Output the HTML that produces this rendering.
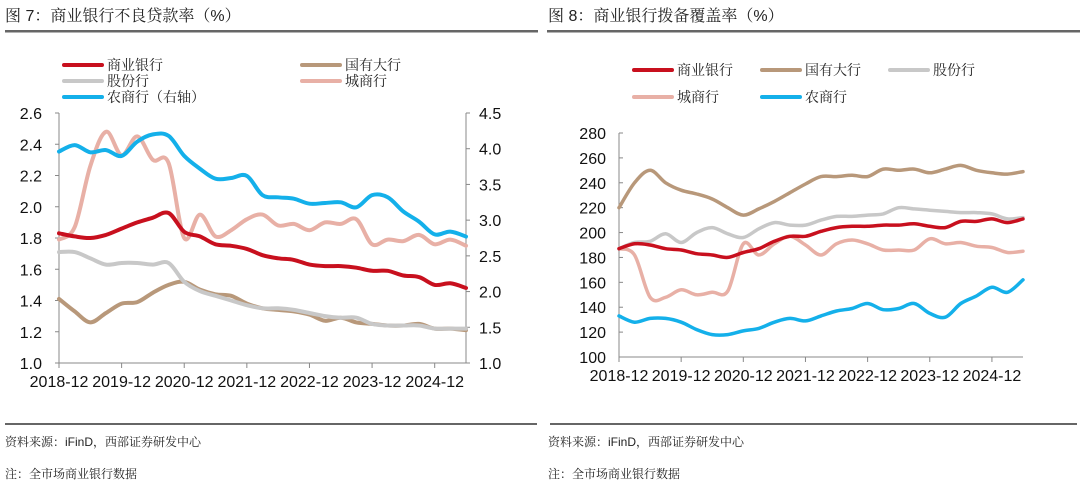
<!DOCTYPE html>
<html><head><meta charset="utf-8">
<style>
body{margin:0;background:#fff;width:1080px;height:491px;overflow:hidden;font-family:"Liberation Sans","Noto Serif CJK SC","Noto Sans CJK SC",sans-serif;}
svg text{font-family:"Liberation Sans","Noto Serif CJK SC","Noto Sans CJK SC",sans-serif;}
</style></head><body>
<svg id="s" width="1080" height="491" xmlns="http://www.w3.org/2000/svg">
<text x="5" y="21" font-size="16" fill="#222">图 7：商业银行不良贷款率（%）</text>
<text x="548" y="21" font-size="16" fill="#222">图 8：商业银行拨备覆盖率（%）</text>
<rect x="5" y="30" width="533" height="2.5" fill="#666"/>
<rect x="547" y="30" width="533" height="2.5" fill="#666"/>
<rect x="5" y="423" width="532" height="2" fill="#666"/>
<rect x="550" y="423" width="527" height="2" fill="#666"/>
<text x="5" y="446" font-size="12" fill="#222">资料来源：iFinD，西部证券研发中心</text>
<text x="5" y="478" font-size="12" fill="#222">注：全市场商业银行数据</text>
<text x="548" y="446" font-size="12" fill="#222">资料来源：iFinD，西部证券研发中心</text>
<text x="548" y="478" font-size="12" fill="#222">注：全市场商业银行数据</text>
<g id="c1"></g><g id="c2"></g>
</svg>
<script>
const xLabels = ["2018-12","2019-12","2020-12","2021-12","2022-12","2023-12","2024-12"];
const leftTicks = [1.0,1.2,1.4,1.6,1.8,2.0,2.2,2.4,2.6];
const rightTicks = [1.0,1.5,2.0,2.5,3.0,3.5,4.0,4.5];
const npl_all = [1.83,1.81,1.80,1.82,1.86,1.90,1.93,1.96,1.84,1.81,1.76,1.75,1.73,1.69,1.67,1.66,1.63,1.62,1.62,1.61,1.59,1.59,1.56,1.55,1.50,1.51,1.48];
const npl_big = [1.41,1.33,1.26,1.32,1.38,1.39,1.45,1.50,1.52,1.47,1.44,1.43,1.38,1.35,1.34,1.33,1.31,1.27,1.29,1.26,1.25,1.24,1.24,1.25,1.22,1.22,1.21];
const npl_jsb = [1.71,1.71,1.67,1.63,1.64,1.64,1.63,1.64,1.52,1.46,1.43,1.40,1.37,1.35,1.35,1.34,1.32,1.30,1.29,1.29,1.25,1.24,1.24,1.24,1.22,1.22,1.22];
const npl_city = [1.79,1.87,2.26,2.48,2.33,2.45,2.30,2.28,1.80,1.95,1.81,1.85,1.92,1.95,1.88,1.89,1.85,1.90,1.89,1.92,1.76,1.79,1.78,1.82,1.76,1.79,1.75];
const npl_rural = [3.96,4.05,3.95,3.98,3.90,4.10,4.20,4.18,3.90,3.72,3.58,3.59,3.62,3.35,3.32,3.30,3.23,3.24,3.25,3.18,3.35,3.32,3.12,2.98,2.80,2.84,2.77];
const covTicks = [100,120,140,160,180,200,220,240,260,280];
const cov_all = [187,191,190,187,186,183,182,180,184,187,193,197,197,201,204,205,205,206,206,207,205,204,209,209,211,208,211];
const cov_big = [220,240,250,240,234,231,227,220,214,219,225,232,239,245,245,246,245,251,250,251,248,251,254,250,248,247,249];
const cov_jsb = [187,192,193,199,192,200,204,199,196,203,208,206,206,210,213,213,214,215,220,219,218,217,216,216,215,211,212];
const cov_city = [187,182,148,148,154,150,152,153,191,182,191,197,190,182,191,194,191,186,186,186,195,191,192,189,188,184,185];
const cov_rural = [133,128,131,131,128,122,118,118,121,123,128,131,129,133,137,139,143,138,139,143,135,132,143,149,156,152,162];

const NS="http://www.w3.org/2000/svg";
const C={red:"#c8101e",brown:"#b8987a",gray:"#c8c8c8",pink:"#e8b0a6",blue:"#14b0ea"};
function mk(tag,attrs,parent,txt){const e=document.createElementNS(NS,tag);for(const k in attrs)e.setAttribute(k,attrs[k]);if(txt!==undefined)e.textContent=txt;parent.appendChild(e);return e;}
function smooth(pts){let d="M"+pts[0][0].toFixed(1)+","+pts[0][1].toFixed(1);for(let i=0;i<pts.length-1;i++){const p0=pts[Math.max(0,i-1)],p1=pts[i],p2=pts[i+1],p3=pts[Math.min(pts.length-1,i+2)];const c1=[p1[0]+(p2[0]-p0[0])/6,p1[1]+(p2[1]-p0[1])/6],c2=[p2[0]-(p3[0]-p1[0])/6,p2[1]-(p3[1]-p1[1])/6];d+="C"+c1[0].toFixed(1)+","+c1[1].toFixed(1)+" "+c2[0].toFixed(1)+","+c2[1].toFixed(1)+" "+p2[0].toFixed(1)+","+p2[1].toFixed(1);}return d;}
function series(g,vals,xf,yf,color,name,w){const p=mk("path",{d:smooth(vals.map((v,i)=>[xf(i),yf(v)])),fill:"none",stroke:color,"stroke-width":w,"stroke-linejoin":"round","stroke-linecap":"round"},g);

}
function legend(g,x,y,color,label,name){const l=mk("line",{x1:x,y1:y,x2:x+38,y2:y,stroke:color,"stroke-width":4,"stroke-linecap":"round"},g);


const t=mk("text",{x:x+43,y:y+5,"font-size":14,fill:"#222"},g,label);

}
function xaxis(g,x0,x1,yb,n){const xf=i=>x0+i*(x1-x0)/(n-1);
mk("line",{x1:x0,y1:yb,x2:x1,y2:yb,stroke:"#888","stroke-width":1},g);
xLabels.forEach((l,k)=>{const x=xf(k*4);mk("line",{x1:x,y1:yb,x2:x,y2:yb+5,stroke:"#888"},g);
const t=mk("text",{x:x,y:yb+24,"font-size":16,"text-anchor":"middle",fill:"#111"},g,l);

});return xf;}

// Chart 7
const g1=document.getElementById("c1");
const L={x0:59,x1:466,top:113,bot:363};
const yL=v=>L.bot-(v-1.0)/(2.6-1.0)*(L.bot-L.top);
const yR=v=>L.bot-(v-1.0)/(4.5-1.0)*(L.bot-L.top);
mk("line",{x1:L.x0,y1:L.top,x2:L.x0,y2:L.bot,stroke:"#888"},g1);
mk("line",{x1:L.x1,y1:L.top,x2:L.x1,y2:L.bot,stroke:"#888"},g1);
leftTicks.forEach(v=>{mk("line",{x1:L.x0-4,y1:yL(v),x2:L.x0,y2:yL(v),stroke:"#888"},g1);
const t=mk("text",{x:42,y:yL(v)+6,"font-size":16,"text-anchor":"end",fill:"#111"},g1,v.toFixed(1));

});
rightTicks.forEach(v=>{mk("line",{x1:L.x1,y1:yR(v),x2:L.x1+4,y2:yR(v),stroke:"#888"},g1);
const t=mk("text",{x:479,y:yR(v)+6,"font-size":16,fill:"#111"},g1,v.toFixed(1));

});
const xf1=xaxis(g1,L.x0,L.x1,L.bot,npl_all.length);
series(g1,npl_big,xf1,yL,C.brown,"npl-big-line",4);
series(g1,npl_jsb,xf1,yL,C.gray,"npl-jsb-line",4);
series(g1,npl_city,xf1,yL,C.pink,"npl-city-line",4);
series(g1,npl_all,xf1,yL,C.red,"npl-all-line",4);
series(g1,npl_rural,xf1,yR,C.blue,"npl-rural-line",4);
legend(g1,64,65,C.red,"商业银行","legend-commercial");
legend(g1,302,65,C.brown,"国有大行","legend-big");
legend(g1,64,81,C.gray,"股份行","legend-jsb");
legend(g1,302,81,C.pink,"城商行","legend-city");
legend(g1,64,97,C.blue,"农商行（右轴）","legend-rural");

// Chart 8
const g2=document.getElementById("c2");
const R={x0:619,x1:1023,top:133,bot:357};
const y2=v=>R.bot-(v-100)/(280-100)*(R.bot-R.top);
mk("line",{x1:R.x0,y1:R.top,x2:R.x0,y2:R.bot,stroke:"#888"},g2);
covTicks.forEach(v=>{mk("line",{x1:R.x0,y1:y2(v),x2:R.x0+4,y2:y2(v),stroke:"#888"},g2);
const t=mk("text",{x:606,y:y2(v)+6,"font-size":16,"text-anchor":"end",fill:"#111"},g2,String(v));

});
const xf2=xaxis(g2,R.x0,R.x1,R.bot,cov_all.length);
series(g2,cov_big,xf2,y2,C.brown,"cov-big-line",3.5);
series(g2,cov_jsb,xf2,y2,C.gray,"cov-jsb-line",3.5);
series(g2,cov_city,xf2,y2,C.pink,"cov-city-line",3.5);
series(g2,cov_all,xf2,y2,C.red,"cov-all-line",3.5);
series(g2,cov_rural,xf2,y2,C.blue,"cov-rural-line",3.5);
legend(g2,634,70,C.red,"商业银行","legend8-commercial");
legend(g2,762,70,C.brown,"国有大行","legend8-big");
legend(g2,890,70,C.gray,"股份行","legend8-jsb");
legend(g2,634,97,C.pink,"城商行","legend8-city");
legend(g2,762,97,C.blue,"农商行","legend8-rural");
</script>
</body></html>
